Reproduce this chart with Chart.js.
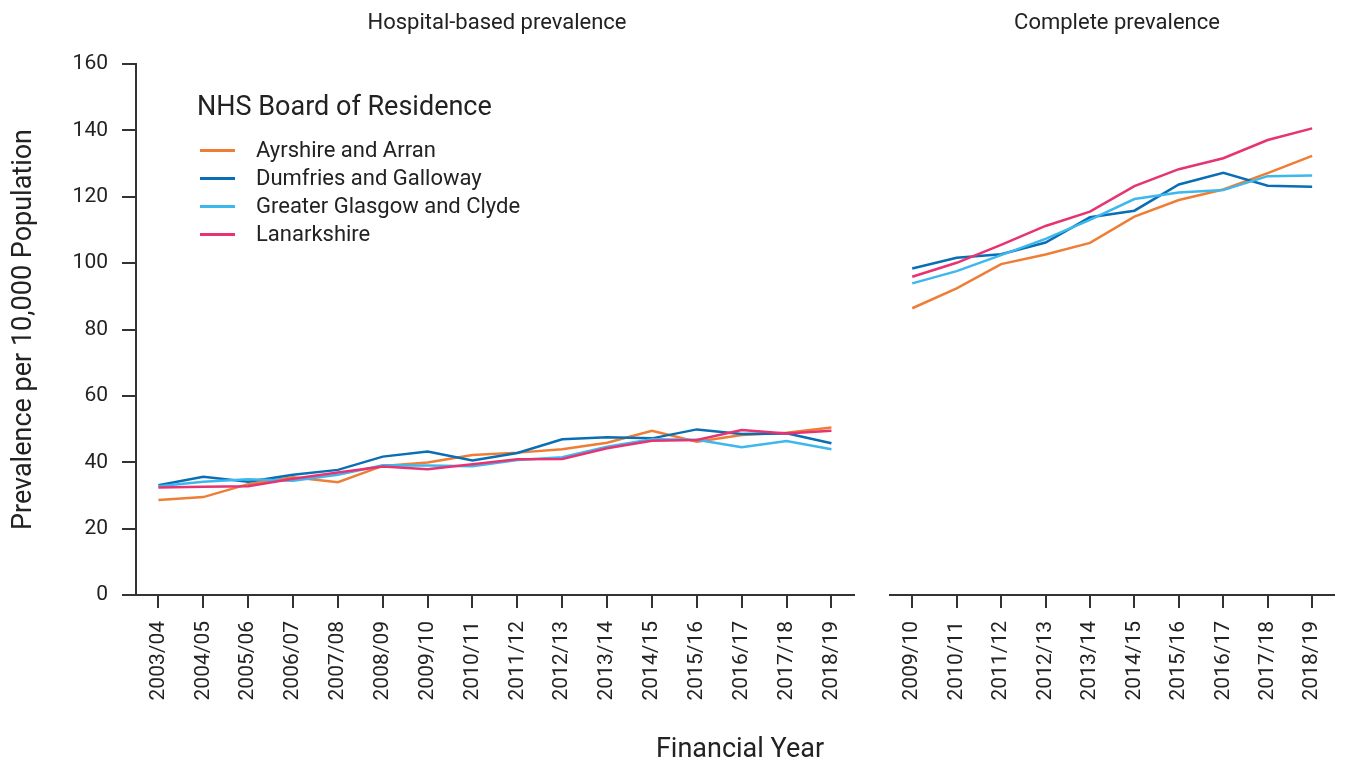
<!DOCTYPE html>
<html>
<head>
<meta charset="utf-8">
<title>Prevalence per 10,000 Population</title>
<script src="https://cdn.jsdelivr.net/npm/chart.js@4"></script>
<style>
  body { margin: 0; background: #fff; font-family: Roboto, "Noto Sans", sans-serif; color: #222; }
  #wrap { position: relative; width: 1351px; height: 763px; overflow: hidden; }
  canvas { position: absolute; top: 0; }
  #hospitalChart { left: 0; }
  #completeChart { left: 880px; }
  .txt { position: absolute; white-space: nowrap; color: #222; }
  .panelTitle { font-size: 22px; line-height: 26px; top: 9px; transform: translateX(-50%); }
  #xTitle { font-size: 27px; line-height: 32px; top: 732px; left: 740px; transform: translateX(-50%); }
  #legend { position: absolute; left: 197px; top: 90px; }
  #legend .title { font-size: 27px; line-height: 32px; margin-bottom: 14px; }
  #legend .item { position: relative; height: 28px; font-size: 22px; line-height: 28px; padding-left: 59px; }
  #legend .swatch { position: absolute; left: 3px; top: 13px; width: 35px; height: 3px; }
</style>
</head>
<body>
<div id="wrap">
  <canvas id="hospitalChart" width="870" height="763"></canvas>
  <canvas id="completeChart" width="471" height="763"></canvas>
  <div class="txt panelTitle" style="left:497px">Hospital-based prevalence</div>
  <div class="txt panelTitle" style="left:1117px">Complete prevalence</div>
  <div class="txt" id="xTitle">Financial Year</div>
  <div id="legend"></div>
</div>
<script>
// categories
const hospitalYears = ['2003/04', '2004/05', '2005/06', '2006/07', '2007/08', '2008/09', '2009/10', '2010/11',
  '2011/12', '2012/13', '2013/14', '2014/15', '2015/16', '2016/17', '2017/18', '2018/19'];
const completeYears = ['2009/10', '2010/11', '2011/12', '2012/13', '2013/14', '2014/15', '2015/16', '2016/17',
  '2017/18', '2018/19'];

const boards = ['Ayrshire and Arran', 'Dumfries and Galloway', 'Greater Glasgow and Clyde', 'Lanarkshire'];
const boardColors = ['#EE7D35', '#0A6EB4', '#3DB8EC', '#E73371'];

// Hospital-based prevalence
const hospitalAyrshire = [28.6, 29.5, 33.4, 35.5, 34.0, 38.9, 39.9, 42.2, 42.9, 43.9, 45.9, 49.5, 46.2, 48.2, 48.9, 50.5];
const hospitalDumfries = [33.1, 35.6, 34.1, 36.2, 37.7, 41.7, 43.2, 40.5, 42.8, 46.9, 47.5, 47.2, 49.9, 48.5, 48.7, 45.7];
const hospitalGlasgow = [32.8, 34.1, 34.9, 34.4, 36.2, 39.1, 39.0, 38.8, 40.7, 41.5, 44.7, 46.9, 46.8, 44.5, 46.4, 43.9];
const hospitalLanark = [32.4, 32.6, 32.8, 35.0, 36.9, 38.7, 37.9, 39.4, 40.9, 41.0, 44.2, 46.5, 46.7, 49.7, 48.7, 49.5];

// Complete prevalence
const completeAyrshire = [86.4, 92.4, 99.7, 102.6, 106.1, 114.0, 119.0, 122.2, 127.1, 132.3];
const completeDumfries = [98.4, 101.6, 102.7, 106.2, 113.8, 115.8, 123.7, 127.2, 123.3, 123.0];
const completeGlasgow = [93.9, 97.6, 102.4, 107.3, 113.0, 119.3, 121.3, 122.0, 126.2, 126.4];
const completeLanark = [95.9, 100.1, 105.5, 111.2, 115.5, 123.2, 128.3, 131.6, 137.1, 140.6];

const yTicks = [0, 20, 40, 60, 80, 100, 120, 140, 160];

const axisColor = '#333';
const tickFont = { family: 'Roboto', size: 21 };

function makeDatasets(seriesList) {
  return seriesList.map((values, i) => ({
    label: boards[i],
    data: values,
    borderColor: boardColors[i],
    backgroundColor: boardColors[i],
    borderWidth: 2.5,
    pointRadius: 0,
    tension: 0,
    order: seriesList.length - i // Lanarkshire drawn on top
  }));
}

function xScale() {
  return {
    offset: true,
    grid: { display: true, drawOnChartArea: false, drawTicks: true, tickLength: 13, color: axisColor, lineWidth: 2 },
    border: { display: true, color: axisColor, width: 2 },
    ticks: { autoSkip: false, maxRotation: 90, minRotation: 90, padding: 13, color: '#222', font: tickFont },
    afterFit: (scale) => { scale.height = 168; }
  };
}

// Hospital-based panel (with y axis)
new Chart(document.getElementById('hospitalChart').getContext('2d'), {
  type: 'line',
  data: {
    labels: hospitalYears,
    datasets: makeDatasets([hospitalAyrshire, hospitalDumfries, hospitalGlasgow, hospitalLanark])
  },
  options: {
    responsive: false,
    animation: false,
    layout: { padding: { top: 64, right: 12, left: 0, bottom: 0 } },
    plugins: { legend: { display: false }, tooltip: { enabled: false } },
    scales: {
      x: xScale(),
      y: {
        min: 0,
        max: 160,
        afterBuildTicks: (scale) => { scale.ticks = yTicks.map(v => ({ value: v })); },
        grid: { display: true, drawOnChartArea: false, drawTicks: true, tickLength: 14, color: axisColor, lineWidth: 2 },
        border: { display: true, color: axisColor, width: 2 },
        ticks: { padding: 14, color: '#222', font: tickFont },
        title: {
          display: true,
          text: 'Prevalence per 10,000 Population',
          color: '#222',
          font: { family: 'Roboto', size: 27 },
          padding: { top: 8, bottom: 0 }
        },
        afterFit: (scale) => { scale.width = 136; }
      }
    }
  }
});

// Complete prevalence panel (y axis hidden, same range)
new Chart(document.getElementById('completeChart').getContext('2d'), {
  type: 'line',
  data: {
    labels: completeYears,
    datasets: makeDatasets([completeAyrshire, completeDumfries, completeGlasgow, completeLanark])
  },
  options: {
    responsive: false,
    animation: false,
    layout: { padding: { top: 64, right: 13, left: 10, bottom: 0 } },
    plugins: { legend: { display: false }, tooltip: { enabled: false } },
    scales: {
      x: xScale(),
      y: { display: false, min: 0, max: 160 }
    }
  }
});

// Legend
const legend = document.getElementById('legend');
legend.innerHTML = '<div class="title">NHS Board of Residence</div>';
boards.forEach((name, i) => {
  const item = document.createElement('div');
  item.className = 'item';
  item.innerHTML = `<span class="swatch" style="background:${boardColors[i]}"></span>${name}`;
  legend.appendChild(item);
});
</script>
</body>
</html>
